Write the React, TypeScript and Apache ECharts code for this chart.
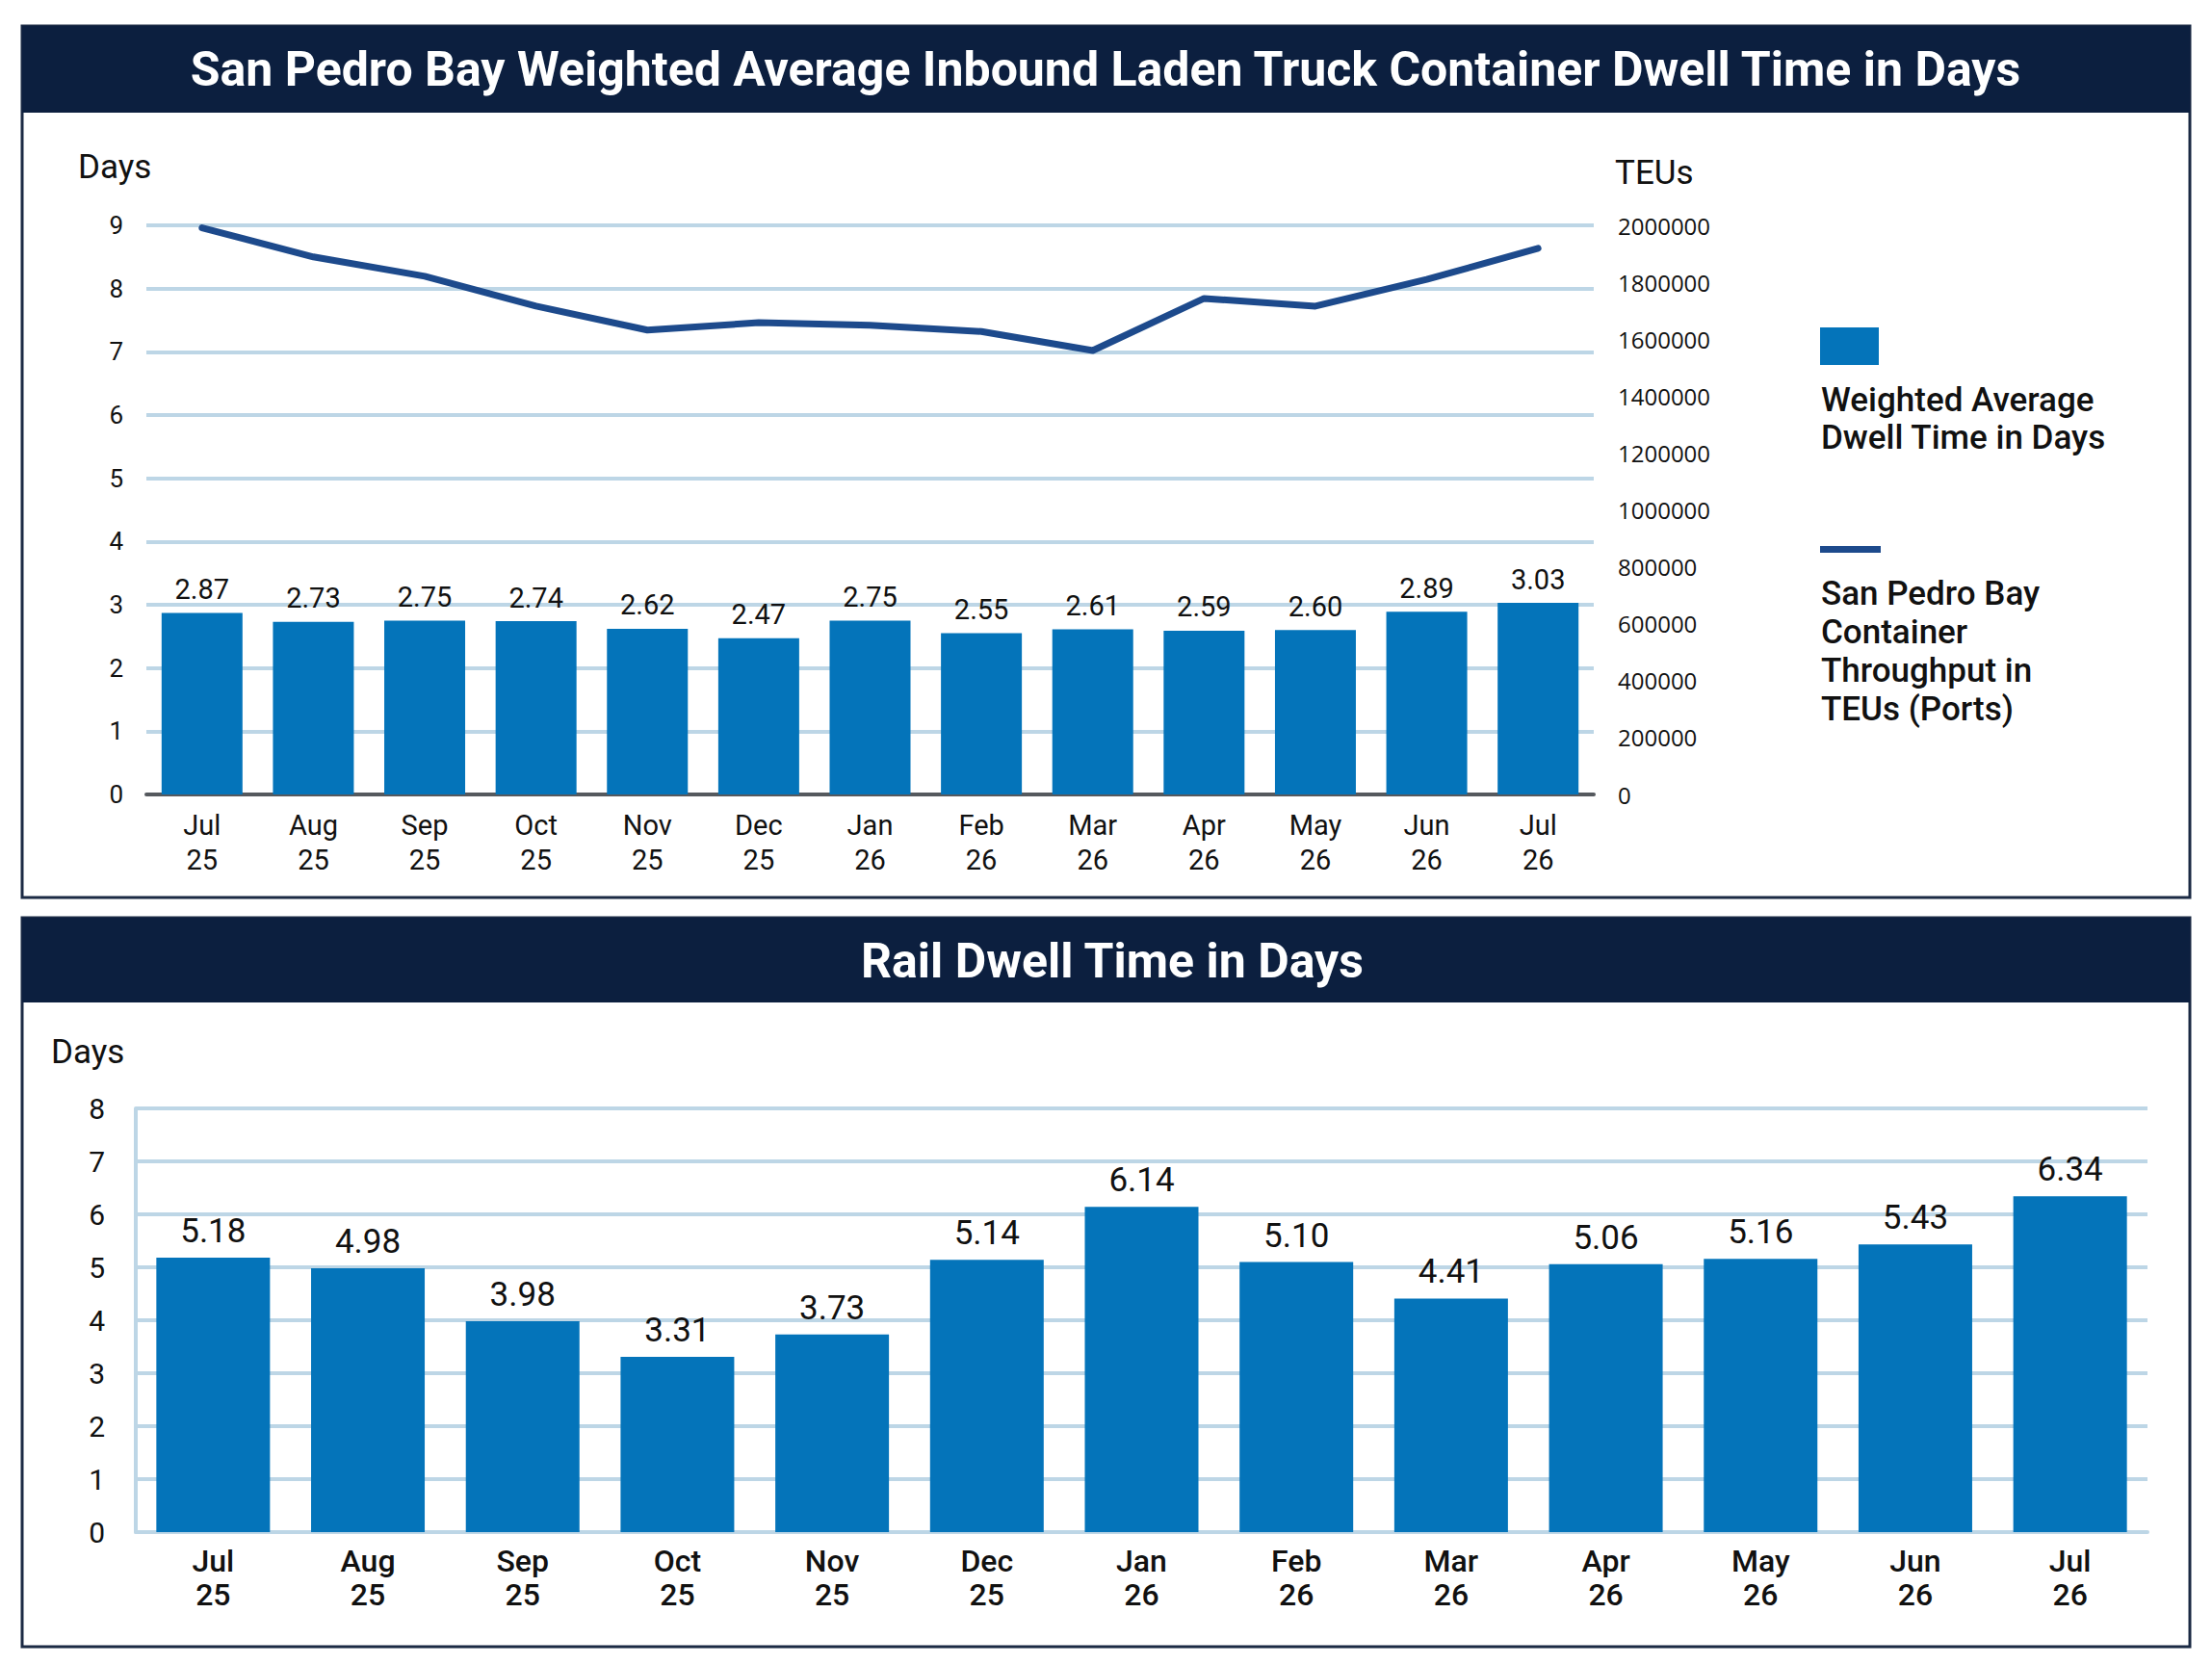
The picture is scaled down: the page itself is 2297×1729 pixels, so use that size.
import React, { useEffect, useRef } from "react";
import * as echarts from "echarts";

const categories = [
  "Jul\n25", "Aug\n25", "Sep\n25", "Oct\n25", "Nov\n25", "Dec\n25", "Jan\n26",
  "Feb\n26", "Mar\n26", "Apr\n26", "May\n26", "Jun\n26", "Jul\n26",
];
const truckDwellDays = [2.87, 2.73, 2.75, 2.74, 2.62, 2.47, 2.75, 2.55, 2.61, 2.59, 2.6, 2.89, 3.03];
const throughputTEUs = [1991000, 1889000, 1821000, 1716000, 1632000, 1658000, 1649000, 1627000, 1560000, 1743000, 1716000, 1810000, 1919000];
const railDwellDays = [5.18, 4.98, 3.98, 3.31, 3.73, 5.14, 6.14, 5.1, 4.41, 5.06, 5.16, 5.43, 6.34];

const topTitle = "San Pedro Bay Weighted Average Inbound Laden Truck Container Dwell Time in Days";
const bottomTitle = "Rail Dwell Time in Days";
const legendBarText = "Weighted Average\nDwell Time in Days";
const legendLineText = "San Pedro Bay\nContainer\nThroughput in\nTEUs (Ports)";

const NAVY = "#0c1f3f";
const BAR = "#0474ba";
const LINE = "#1d4a8c";
const GRIDC = "#bdd6e6";
const TXT = "#111111";
const FONT = "Roboto";

export default function App() {
  const ref = useRef<HTMLDivElement>(null);
  useEffect(() => {
    if (!ref.current) return;
    const chart = echarts.init(ref.current, null, { renderer: "svg" });
    const option: any = {
      animation: false,
      backgroundColor: "#ffffff",
      textStyle: { fontFamily: FONT },
      grid: [
        { left: 152, right: 642, top: 234, bottom: 904, outerBoundsMode: "none", containLabel: false },
        { left: 141, right: 67, top: 1151, bottom: 138, outerBoundsMode: "none", containLabel: false },
      ],
      xAxis: [
        {
          type: "category", gridIndex: 0, data: categories,
          axisLine: { show: true, lineStyle: { color: "#55595e", width: 4 } },
          axisTick: { show: false },
          splitLine: { show: false },
          axisLabel: { color: TXT, fontSize: 29, lineHeight: 36, margin: 14, fontFamily: FONT, interval: 0 },
        },
        {
          type: "category", gridIndex: 1, data: categories,
          axisLine: { show: true, lineStyle: { color: GRIDC, width: 4 } },
          axisTick: { show: false },
          splitLine: { show: false },
          axisLabel: { color: TXT, fontSize: 32, fontWeight: 500, lineHeight: 35, margin: 12, fontFamily: FONT, interval: 0 },
        },
      ],
      yAxis: [
        {
          type: "value", gridIndex: 0, min: 0, max: 9, interval: 1,
          axisLine: { show: false }, axisTick: { show: false },
          splitLine: { show: true, lineStyle: { color: GRIDC, width: 4 } },
          axisLabel: { color: TXT, fontSize: 26, margin: 24, fontFamily: FONT },
        },
        {
          type: "value", gridIndex: 0, position: "right", min: 0, max: 2000000, interval: 200000,
          axisLine: { show: false }, axisTick: { show: false },
          splitLine: { show: false },
          axisLabel: { color: TXT, fontSize: 24, margin: 25, fontFamily: "Open Sans", formatter: (v: number) => String(v) },
        },
        {
          type: "value", gridIndex: 1, min: 0, max: 8, interval: 1,
          axisLine: { show: true, lineStyle: { color: GRIDC, width: 4 } }, axisTick: { show: false },
          splitLine: { show: true, lineStyle: { color: GRIDC, width: 4 } },
          axisLabel: { color: TXT, fontSize: 30, margin: 32, fontFamily: FONT },
        },
      ],
      series: [
        {
          type: "bar", xAxisIndex: 0, yAxisIndex: 0, data: truckDwellDays, barWidth: 84,
          itemStyle: { color: BAR },
          label: { show: true, position: "top", distance: 10, color: TXT, fontSize: 29, fontFamily: FONT,
            formatter: (p: any) => Number(p.value).toFixed(2) },
          z: 2,
        },
        {
          type: "line", xAxisIndex: 0, yAxisIndex: 1, data: throughputTEUs, symbol: "none",
          lineStyle: { color: LINE, width: 7, cap: "round", join: "round" },
          z: 3,
        },
        {
          type: "bar", xAxisIndex: 1, yAxisIndex: 2, data: railDwellDays, barWidth: 118,
          itemStyle: { color: BAR },
          label: { show: true, position: "top", distance: 10, color: TXT, fontSize: 35, fontFamily: FONT,
            formatter: (p: any) => Number(p.value).toFixed(2) },
          z: 2,
        },
      ],
      graphic: [
        // top panel
        { type: "rect", shape: { x: 23, y: 27, width: 2251, height: 905 }, style: { fill: "none", stroke: "#1b2a44", lineWidth: 3 }, z: 0 },
        { type: "rect", shape: { x: 23, y: 27, width: 2251, height: 90 }, style: { fill: NAVY }, z: 1 },
        { type: "text", x: 1148, y: 72, style: { text: topTitle, fill: "#ffffff", fontSize: 50, fontWeight: "bold", fontFamily: FONT, textAlign: "center", textVerticalAlign: "middle" }, z: 2 },
        { type: "text", x: 81, y: 173, style: { text: "Days", fill: TXT, fontSize: 35, fontFamily: FONT, textAlign: "left", textVerticalAlign: "middle" }, z: 2 },
        { type: "text", x: 1677, y: 179, style: { text: "TEUs", fill: TXT, fontSize: 35, fontFamily: FONT, textAlign: "left", textVerticalAlign: "middle" }, z: 2 },
        // legend
        { type: "rect", shape: { x: 1890, y: 340, width: 61, height: 39 }, style: { fill: BAR }, z: 2 },
        { type: "text", x: 1891, y: 396, style: { text: legendBarText, fill: TXT, fontSize: 35, fontWeight: 500, fontFamily: FONT, lineHeight: 39, textAlign: "left", textVerticalAlign: "top" }, z: 2 },
        { type: "rect", shape: { x: 1890, y: 567, width: 63, height: 7 }, style: { fill: LINE }, z: 2 },
        { type: "text", x: 1891, y: 596, style: { text: legendLineText, fill: TXT, fontSize: 35, fontWeight: 500, fontFamily: FONT, lineHeight: 40, textAlign: "left", textVerticalAlign: "top" }, z: 2 },
        // bottom panel
        { type: "rect", shape: { x: 23, y: 953, width: 2251, height: 757 }, style: { fill: "none", stroke: "#1b2a44", lineWidth: 3 }, z: 0 },
        { type: "rect", shape: { x: 23, y: 953, width: 2251, height: 88 }, style: { fill: NAVY }, z: 1 },
        { type: "text", x: 1155, y: 998, style: { text: bottomTitle, fill: "#ffffff", fontSize: 50, fontWeight: "bold", fontFamily: FONT, textAlign: "center", textVerticalAlign: "middle" }, z: 2 },
        { type: "text", x: 53, y: 1092, style: { text: "Days", fill: TXT, fontSize: 35, fontFamily: FONT, textAlign: "left", textVerticalAlign: "middle" }, z: 2 },
      ],
    };
    chart.setOption(option);
    return () => chart.dispose();
  }, []);
  return (
    <div
      ref={ref}
      style={{ position: "absolute", left: 0, top: 0, width: 2297, height: 1729, background: "#fff" }}
    />
  );
}
